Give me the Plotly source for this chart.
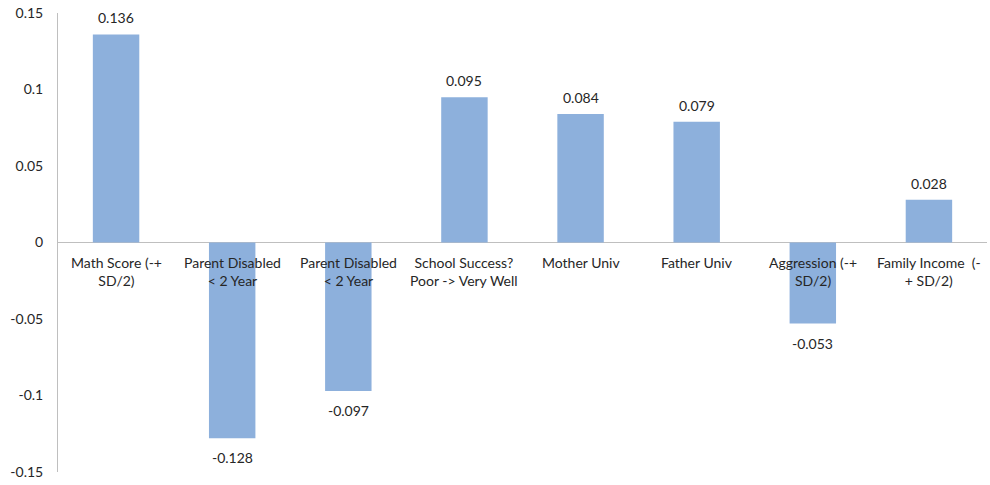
import plotly.graph_objects as go

categories = ["Math Score (-+<br>SD/2)", "Parent Disabled<br>&lt; 2 Year", "Parent Disabled<br>&lt; 2 Year",
              "School Success?<br>Poor -&gt; Very Well", "Mother Univ", "Father Univ",
              "Aggression (-+<br>SD/2)", "Family Income  (-<br>+ SD/2)"]
values = [0.136, -0.128, -0.097, 0.095, 0.084, 0.079, -0.053, 0.028]
value_labels = ["0.136", "-0.128", "-0.097", "0.095", "0.084", "0.079", "-0.053", "0.028"]
tick_vals = [-0.15, -0.1, -0.05, 0, 0.05, 0.1, 0.15]
tick_text = ["-0.15", "-0.1", "-0.05", "0", "0.05", "0.1", "0.15"]

FONT = "Lato"
TXT = "#262626"
x = list(range(len(values)))

fig = go.Figure(go.Bar(
    x=x, y=values, width=0.4, marker=dict(color="#8DB0DC", line=dict(width=0)),
    hoverinfo="skip"))

for xi, v, t in zip(x, values, value_labels):
    pos = v >= 0
    fig.add_annotation(x=xi, y=v, xref="x", yref="y", text=t, showarrow=False,
                       yanchor="bottom" if pos else "top", yshift=6 if pos else -9,
                       font=dict(family=FONT, size=14, color=TXT))

for xi, lab in zip(x, categories):
    fig.add_annotation(x=xi, y=0, xref="x", yref="y", text=lab, showarrow=False,
                       yanchor="top", yshift=-9, font=dict(family=FONT, size=14, color=TXT),
                       align="center")

fig.update_layout(
    width=990, height=485, margin=dict(l=58, r=3, t=13, b=13),
    paper_bgcolor="white", plot_bgcolor="white", showlegend=False,
    xaxis=dict(range=[-0.5, 7.5], showticklabels=False, showgrid=False, zeroline=False,
               showline=False, ticks=""),
    yaxis=dict(range=[-0.15, 0.15], tickvals=tick_vals, ticktext=tick_text, showgrid=False,
               zeroline=True, zerolinecolor="#BFBFBF", zerolinewidth=1,
               showline=True, linecolor="#BFBFBF", linewidth=1, ticks="",
               tickfont=dict(family=FONT, size=14, color=TXT), ticklabelstandoff=11),
)
fig.write_html("out.html", config={"displayModeBar": False},
               post_script="document.body.style.margin='0px';document.body.style.overflow='hidden';")
